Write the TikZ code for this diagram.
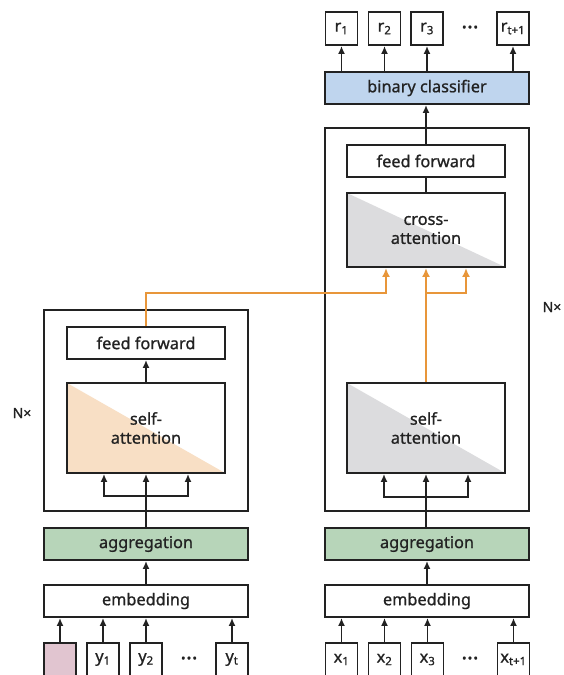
\documentclass[tikz,border=0pt]{standalone}
\usepackage{fontspec}
\setmainfont{Noto Sans}[FakeBold=0.9]
\usepackage{xcolor}
\usetikzlibrary{arrows.meta, positioning}
\definecolor{ink}{HTML}{222222}
\definecolor{orangeline}{HTML}{E8963A}
\definecolor{aggfill}{HTML}{B7D5B9}
\definecolor{clsfill}{HTML}{BFD5EE}
\definecolor{peach}{HTML}{F8DFC5}
\definecolor{attgray}{HTML}{DCDCDE}
\definecolor{startfill}{HTML}{E1C5D0}
\newcommand{\tokdots}{\raisebox{-2pt}{\fontsize{12}{14}\selectfont •\kern1.2pt•\kern1.2pt•}}
\tikzstyle{block}  = [rectangle, draw=ink, line width=1.9pt, fill=white, minimum width=204pt,
                      minimum height=32pt, inner sep=0pt, text=ink, font=\fontsize{16.3}{19}\selectfont]
\tikzstyle{inner}  = [block, minimum width=158pt]
\tikzstyle{attn}   = [inner, minimum height=90pt, align=center]
\tikzstyle{token}  = [block, minimum width=32pt, minimum height=33pt]
\tikzstyle{frame}  = [rectangle, draw=ink, line width=1.7pt, minimum width=204pt, inner sep=0pt]
\tikzstyle{line}   = [line width=1.7pt, draw=ink]
\tikzstyle{arrow}  = [-{Latex[length=8pt,width=7pt]}, line width=1.7pt, draw=ink]
\tikzstyle{crossarrow} = [-{Latex[length=9pt,width=8pt]}, line width=2.4pt, draw=orangeline]
\tikzset{halffill/.style={path picture={\fill[#1] (path picture bounding box.north west)
         -- (path picture bounding box.south east) -- (path picture bounding box.south west) -- cycle;}}}

\begin{document}
\begin{tikzpicture}[x=1pt, y=-1pt]
    \useasboundingbox (0,0) rectangle (563,675);

    % the two N x frames
    \node (frameL) [frame, minimum height=201pt] at (146,410.5) {};
    \node (frameR) [frame, minimum height=383pt] at (427,319.5) {};
    \node (nL) [text=ink, font=\fontsize{14}{16}\selectfont] at (22,413) {N×};
    \node (nR) [text=ink, font=\fontsize{14}{16}\selectfont] at (552,307) {N×};

    % left column
    \node (y0) [token, fill=startfill] at (60,659.5) {};
    \node (y1) [token] at (103,659.5) {y\textsubscript{1}};
    \node (y2) [token] at (146,659.5) {y\textsubscript{2}};
    \node (ydots) [text=ink] at (189,659.5) {\tokdots};
    \node (ylast) [token] at (232,659.5) {y\textsubscript{t}};
    \node (embL) [block] at (146,601) {embedding};
    \node (aggL) [block, fill=aggfill] at (146,544) {aggregation};
    \node (saL) [attn, halffill=peach] at (146,428) {self-\\attention};
    \node (ffL) [inner] at (146,343) {feed forward};
    \coordinate (brL) at (146,496);

    % right column
    \node (x1) [token] at (341.5,659.5) {x\textsubscript{1}};
    \node (x2) [token] at (384.5,659.5) {x\textsubscript{2}};
    \node (x3) [token] at (427.5,659.5) {x\textsubscript{3}};
    \node (xdots) [text=ink] at (470,659.5) {\tokdots};
    \node (xlast) [token] at (513.5,659.5) {x\textsubscript{t+1}};
    \node (embR) [block] at (427,601) {embedding};
    \node (aggR) [block, fill=aggfill] at (427,544) {aggregation};
    \node (saR) [attn, halffill=attgray] at (426,428) {self-\\attention};
    \node (ca) [attn, minimum height=74pt, halffill=attgray] at (426,230) {cross-\\attention};
    \node (ffR) [inner] at (426,161) {feed forward};
    \node (cls) [block, fill=clsfill] at (427,88) {binary classifier};
    \node (r1) [token] at (341.5,28.5) {r\textsubscript{1}};
    \node (r2) [token] at (384.5,28.5) {r\textsubscript{2}};
    \node (r3) [token] at (427,28.5) {r\textsubscript{3}};
    \node (rdots) [text=ink] at (470,28.5) {\tokdots};
    \node (rlast) [token] at (513,28.5) {r\textsubscript{t+1}};
    \coordinate (brR) at (426,497);
    \coordinate (kvturn) at (386,293);
    \coordinate (qturn) at (426,293);

    % left connectors
    \draw[arrow] (y0) -- (y0 |- embL.south);
    \draw[arrow] (y1) -- (y1 |- embL.south);
    \draw[arrow] (y2) -- (y2 |- embL.south);
    \draw[arrow] (ylast) -- (ylast |- embL.south);
    \draw[arrow] (embL) -- (aggL);
    \draw[line] (aggL) -- (brL);
    \draw[arrow] (brL) -- (saL);
    \draw[arrow] (brL) -| ([xshift=-42pt]saL.south);
    \draw[arrow] (brL) -| ([xshift=42pt]saL.south);
    \draw[arrow] (saL) -- (ffL);

    % right connectors
    \draw[arrow] (x1) -- (x1 |- embR.south);
    \draw[arrow] (x2) -- (x2 |- embR.south);
    \draw[arrow] (x3) -- (x3 |- embR.south);
    \draw[arrow] (xlast) -- (xlast |- embR.south);
    \draw[arrow] (embR) -- (aggR);
    \draw[line] (aggR.north -| brR) -- (brR);
    \draw[arrow] (brR) -- (saR);
    \draw[arrow] (brR) -| ([xshift=-42pt]saR.south);
    \draw[arrow] (brR) -| ([xshift=42pt]saR.south);
    \draw[line] (ca) -- (ffR);
    \draw[arrow] (ffR) -- (ffR |- cls.south);
    \draw[arrow] (cls.north -| r1) -- (r1);
    \draw[arrow] (cls.north -| r2) -- (r2);
    \draw[arrow] (cls.north -| r3) -- (r3);
    \draw[arrow] (cls.north -| rlast) -- (rlast);

    % encoder output into cross-attention
    \draw[crossarrow] (ffL) |- (kvturn) -- (kvturn |- ca.south);
    \draw[crossarrow] (saR) -- (ca);
    \draw[crossarrow] (qturn) -| ([xshift=40pt]ca.south);
\end{tikzpicture}
\end{document}
